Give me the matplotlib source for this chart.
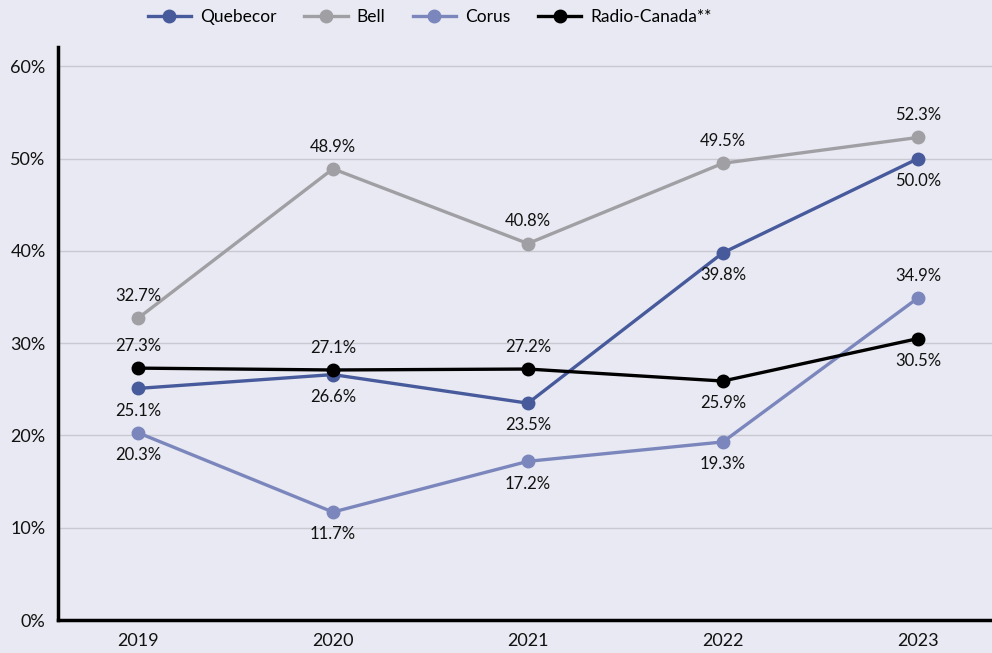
import matplotlib.pyplot as plt
import matplotlib.ticker as mticker

BG_COLOR = '#e9e9f3'
GRID_COLOR = '#c9c9d2'

years = ['2019', '2020', '2021', '2022', '2023']
quebecor = [25.1, 26.6, 23.5, 39.8, 50.0]
bell = [32.7, 48.9, 40.8, 49.5, 52.3]
corus = [20.3, 11.7, 17.2, 19.3, 34.9]
radio_canada = [27.3, 27.1, 27.2, 25.9, 30.5]

# label placement: +1 above the point, -1 below
series = [
    ('Quebecor', quebecor, '#475a9b', [-1, -1, -1, -1, -1]),
    ('Bell', bell, '#a0a0a4', [1, 1, 1, 1, 1]),
    ('Corus', corus, '#7b87bc', [-1, -1, -1, -1, 1]),
    ('Radio-Canada**', radio_canada, '#000000', [1, 1, 1, -1, -1]),
]

plt.rcParams['font.family'] = ['Lato', 'DejaVu Sans']

fig = plt.figure(figsize=(9.92, 6.53), dpi=100, facecolor=BG_COLOR)
ax = fig.add_axes([0.0585, 0.0505, 0.9415, 0.8775], facecolor=BG_COLOR)

x = list(range(len(years)))
for name, vals, color, pos in series:
    ax.plot(x, vals, color=color, linewidth=2.4, marker='o',
            markersize=9, label=name, zorder=3)
    for xi, v, p in zip(x, vals, pos):
        ax.annotate('{:.1f}%'.format(v), (xi, v),
                    xytext=(0, 16 * p), textcoords='offset points',
                    ha='center', va='center', fontsize=12, color='#111111')

ax.set_xlim(-0.41, 4.38)
ax.set_ylim(0, 62.1)
ax.set_xticks(x)
ax.set_xticklabels(years)
ax.yaxis.set_major_locator(mticker.MultipleLocator(10))
ax.yaxis.set_major_formatter(mticker.FuncFormatter(lambda v, p: '{:.0f}%'.format(v)))
ax.tick_params(axis='both', length=0, labelsize=13, colors='#111111')
ax.tick_params(axis='x', pad=9)
ax.tick_params(axis='y', pad=9)
ax.grid(axis='y', color=GRID_COLOR, linewidth=1)
ax.set_axisbelow(True)

for side in ['top', 'right']:
    ax.spines[side].set_visible(False)
ax.spines['left'].set_linewidth(2.5)
ax.spines['bottom'].set_linewidth(2.5)

fig.legend(loc='center', bbox_to_anchor=(0.433, 0.974), ncol=4,
           frameon=False, fontsize=12.5, handlelength=2.5,
           columnspacing=1.6, handletextpad=0.5)

plt.savefig('out.png', facecolor=BG_COLOR)
